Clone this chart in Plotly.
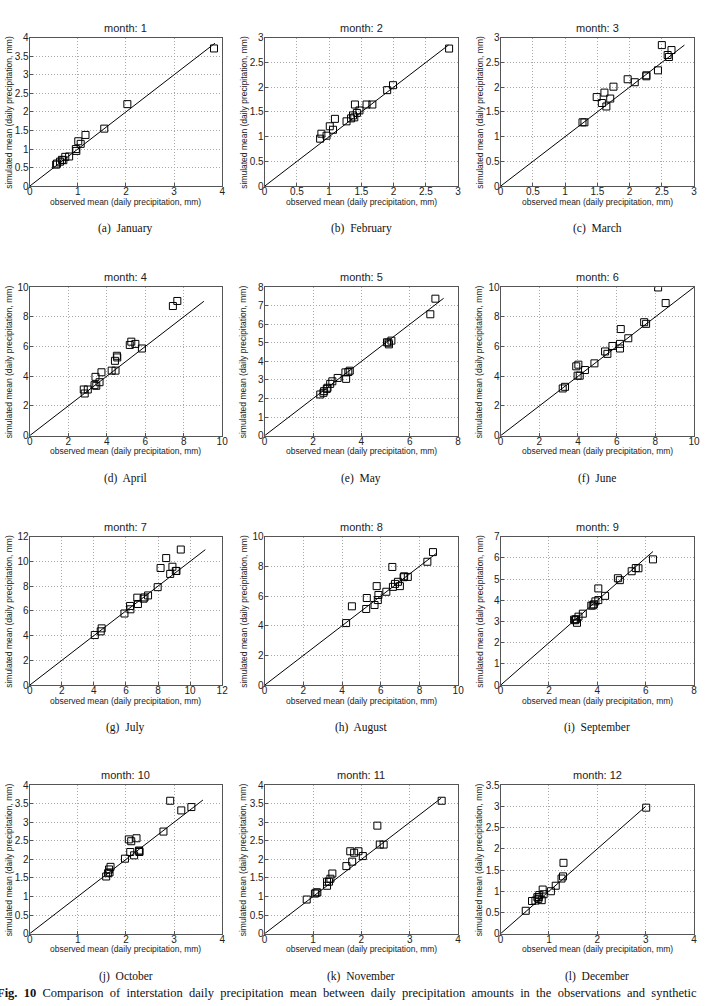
import plotly.graph_objects as go

W, H = 707, 1006

months = [1, 2, 3, 4, 5, 6, 7, 8, 9, 10, 11, 12]
captions = ["(a)  January", "(b)  February", "(c)  March", "(d)  April", "(e)  May", "(f)  June",
            "(g)  July", "(h)  August", "(i)  September", "(j)  October", "(k)  November", "(l)  December"]

obs_1 = [3.83, 2.03, 1.55, 1.16, 1.01, 1.06, 0.96, 0.97, 0.82, 0.74, 0.70, 0.63, 0.57, 0.55, 0.67]
sim_1 = [3.71, 2.21, 1.55, 1.38, 1.21, 1.14, 1.00, 0.95, 0.80, 0.79, 0.70, 0.66, 0.61, 0.58, 0.71]
obs_2 = [2.86, 1.99, 1.90, 1.67, 1.58, 1.47, 1.40, 1.43, 1.37, 1.34, 1.27, 1.39, 1.09, 1.01, 1.06, 0.96, 0.88, 0.86]
sim_2 = [2.78, 2.04, 1.94, 1.65, 1.65, 1.53, 1.65, 1.48, 1.43, 1.37, 1.31, 1.39, 1.36, 1.21, 1.14, 1.02, 1.06, 0.96]
obs_3 = [2.50, 2.65, 2.59, 2.61, 2.44, 2.26, 2.26, 2.08, 1.97, 1.75, 1.61, 1.49, 1.70, 1.57, 1.64, 1.27, 1.30]
sim_3 = [2.85, 2.75, 2.65, 2.61, 2.34, 2.24, 2.22, 2.10, 2.16, 2.01, 1.89, 1.80, 1.77, 1.68, 1.61, 1.29, 1.29]
obs_4 = [7.67, 7.44, 5.83, 5.49, 5.28, 5.20, 4.53, 4.55, 4.43, 4.46, 4.26, 3.73, 3.42, 3.63, 3.37, 3.46, 3.02, 2.81, 2.86]
sim_4 = [9.07, 8.73, 5.87, 6.18, 6.33, 6.11, 5.38, 5.27, 5.04, 4.38, 4.38, 4.27, 3.96, 3.60, 3.40, 3.36, 3.11, 3.11, 2.84]
obs_5 = [7.06, 6.85, 5.24, 5.12, 5.14, 5.06, 3.52, 3.46, 3.34, 3.37, 3.02, 2.80, 2.71, 2.60, 2.57, 2.46, 2.43, 2.30]
sim_5 = [7.38, 6.54, 5.12, 5.01, 4.92, 5.03, 3.50, 3.43, 3.41, 3.06, 3.11, 2.93, 2.79, 2.58, 2.52, 2.40, 2.31, 2.22]
obs_6 = [8.14, 8.53, 7.42, 7.52, 6.60, 6.21, 6.17, 6.17, 5.78, 5.40, 5.52, 4.85, 4.36, 4.02, 3.91, 3.98, 4.09, 3.33, 3.21]
sim_6 = [9.98, 8.93, 7.64, 7.53, 6.56, 7.18, 6.18, 5.87, 6.04, 5.67, 5.51, 4.87, 4.42, 4.78, 4.67, 4.04, 4.04, 3.29, 3.18]
obs_7 = [9.42, 8.51, 8.16, 8.90, 9.15, 9.11, 8.76, 7.98, 7.38, 7.16, 7.10, 6.71, 6.75, 6.26, 6.28, 5.91, 4.49, 4.43, 4.06]
sim_7 = [10.96, 10.27, 9.47, 9.57, 9.23, 9.23, 8.99, 7.92, 7.25, 7.09, 6.99, 7.07, 6.56, 6.40, 6.13, 5.79, 4.59, 4.35, 4.05]
obs_8 = [8.70, 8.41, 7.40, 7.21, 7.18, 6.99, 6.89, 6.74, 6.63, 6.60, 6.29, 5.88, 5.85, 5.79, 5.68, 5.28, 5.25, 4.51, 4.21]
sim_8 = [8.96, 8.31, 7.29, 7.33, 7.27, 6.67, 6.96, 6.82, 6.62, 7.96, 6.29, 6.07, 5.73, 6.67, 5.40, 5.87, 5.13, 5.31, 4.18]
obs_9 = [6.30, 5.70, 5.59, 5.42, 4.93, 4.85, 4.32, 4.04, 4.04, 3.92, 3.86, 3.81, 3.75, 3.40, 3.22, 3.12, 3.08, 3.16, 3.04]
sim_9 = [5.93, 5.51, 5.52, 5.37, 4.95, 5.04, 4.21, 4.56, 4.01, 3.95, 3.81, 3.76, 3.75, 3.37, 3.23, 3.11, 3.06, 2.94, 3.09]
obs_10 = [2.92, 3.15, 3.36, 2.78, 2.22, 2.06, 2.11, 2.09, 2.17, 2.27, 2.28, 2.28, 1.98, 1.68, 1.65, 1.66, 1.63, 1.59]
sim_10 = [3.58, 3.32, 3.41, 2.75, 2.57, 2.54, 2.49, 2.20, 2.11, 2.24, 2.20, 2.22, 2.02, 1.80, 1.73, 1.65, 1.63, 1.54]
obs_11 = [3.66, 2.33, 2.38, 2.46, 2.03, 1.94, 1.77, 1.85, 1.81, 1.69, 1.40, 1.36, 1.33, 1.29, 1.29, 1.09, 1.07, 1.04, 0.87]
sim_11 = [3.58, 2.91, 2.40, 2.40, 2.09, 2.22, 2.22, 2.18, 1.94, 1.82, 1.62, 1.48, 1.40, 1.29, 1.40, 1.11, 1.11, 1.08, 0.92]
obs_12 = [3.01, 1.30, 1.29, 1.26, 1.14, 1.04, 0.87, 0.89, 0.85, 0.80, 0.79, 0.78, 0.76, 0.72, 0.65, 0.52]
sim_12 = [2.97, 1.67, 1.35, 1.30, 1.13, 1.00, 1.04, 0.93, 0.79, 0.91, 0.86, 0.82, 0.86, 0.78, 0.77, 0.54]

obs = [obs_1, obs_2, obs_3, obs_4, obs_5, obs_6, obs_7, obs_8, obs_9, obs_10, obs_11, obs_12]
sim = [sim_1, sim_2, sim_3, sim_4, sim_5, sim_6, sim_7, sim_8, sim_9, sim_10, sim_11, sim_12]

# end of the 1:1 reference line per month
line_end = [3.85, 2.85, 2.85, 9.05, 7.4, 10.0, 10.95, 8.9, 6.3, 3.6, 3.65, 3.0]

# axis ranges and tick steps
x_max = [4, 3, 3, 10, 8, 10, 12, 10, 8, 4, 4, 4]
x_step = [1, 0.5, 0.5, 2, 2, 2, 2, 2, 2, 1, 1, 1]
y_max = [4, 3, 3, 10, 8, 10, 12, 10, 7, 4, 4, 3.5]
y_step = [0.5, 0.5, 0.5, 2, 1, 2, 2, 2, 1, 0.5, 0.5, 0.5]

xlabel = "observed mean (daily precipitation, mm)"
ylabel = "simulated mean (daily precipitation, mm)"
caption_words = ["<b>Fig.", "10</b>", "Comparison", "of", "interstation", "daily", "precipitation",
                 "mean", "between", "daily", "precipitation", "amounts", "in", "the",
                 "observations", "and", "synthetic"]
fig_caption = " \u00a0".join(caption_words)

col_px = [(27, 222), (265, 461), (504, 700)]
row_px = [(33, 183), (285, 435), (537, 687), (788, 938)]

fig = go.Figure()
annotations = []
sans = "Liberation Sans, Arial, sans-serif"
serif = "Liberation Serif, Times New Roman, serif"

for i, m in enumerate(months):
    r, c = divmod(i, 3)
    x0, x1 = col_px[c]
    y0, y1 = row_px[r]
    xa = "x" if i == 0 else f"x{i+1}"
    ya = "y" if i == 0 else f"y{i+1}"
    xkey = "xaxis" if i == 0 else f"xaxis{i+1}"
    ykey = "yaxis" if i == 0 else f"yaxis{i+1}"

    fig.add_trace(go.Scatter(x=[0, line_end[i]], y=[0, line_end[i]], mode="lines",
                             line=dict(color="black", width=1), xaxis=xa, yaxis=ya,
                             showlegend=False, hoverinfo="skip"))
    fig.add_trace(go.Scatter(x=obs[i], y=sim[i], mode="markers",
                             marker=dict(symbol="square-open", size=7, color="black",
                                         line=dict(width=1, color="black")),
                             xaxis=xa, yaxis=ya, showlegend=False))

    common = dict(showgrid=True, gridcolor="#a8a8a8", griddash="1px,2px", gridwidth=1,
                  showline=True, linecolor="#555555", linewidth=1, mirror=True,
                  ticks="inside", ticklen=3, tickcolor="#555555", zeroline=False,
                  tickfont=dict(family=sans, size=10, color="#222222"))
    fig.update_layout({
        xkey: dict(domain=[x0 / W, x1 / W], range=[0, x_max[i]], dtick=x_step[i], tick0=0,
                   anchor=ya, ticklabelstandoff=-4, **common),
        ykey: dict(domain=[1 - y1 / H, 1 - y0 / H], range=[0, y_max[i]], dtick=y_step[i], tick0=0,
                   anchor=xa, ticklabelstandoff=-2, **common),
    })

    cx = (x0 + x1) / 2 / W
    annotations.append(dict(text=f"month: {m}", x=cx, y=1 - (y0 - 10) / H, xref="paper", yref="paper",
                            showarrow=False, font=dict(family=sans, size=11, color="#222222"),
                            xanchor="center", yanchor="middle"))
    annotations.append(dict(text=xlabel, x=cx, y=1 - (y1 + 15.5) / H, xref="paper", yref="paper",
                            showarrow=False, font=dict(family=sans, size=8.5, color="#222222"),
                            xanchor="center", yanchor="middle"))
    annotations.append(dict(text=ylabel, x=(x0 - 21) / W, y=1 - (y0 + y1) / 2 / H, xref="paper", yref="paper",
                            showarrow=False, textangle=-90, font=dict(family=sans, size=8.5, color="#222222"),
                            xanchor="center", yanchor="middle"))
    annotations.append(dict(text=captions[i], x=cx, y=1 - (y1 + 43) / H, xref="paper", yref="paper",
                            showarrow=False, font=dict(family=serif, size=11.5, color="#111111"),
                            xanchor="center", yanchor="middle"))

annotations.append(dict(text=fig_caption, x=-8 / W, y=1 - 998 / H, xref="paper", yref="paper",
                        showarrow=False, font=dict(family=serif, size=12.5, color="#111111"),
                        xanchor="left", yanchor="middle"))

fig.update_layout(width=W, height=H, margin=dict(l=0, r=0, t=0, b=0),
                  paper_bgcolor="white", plot_bgcolor="white", annotations=annotations)

fig.write_html("out.html")
